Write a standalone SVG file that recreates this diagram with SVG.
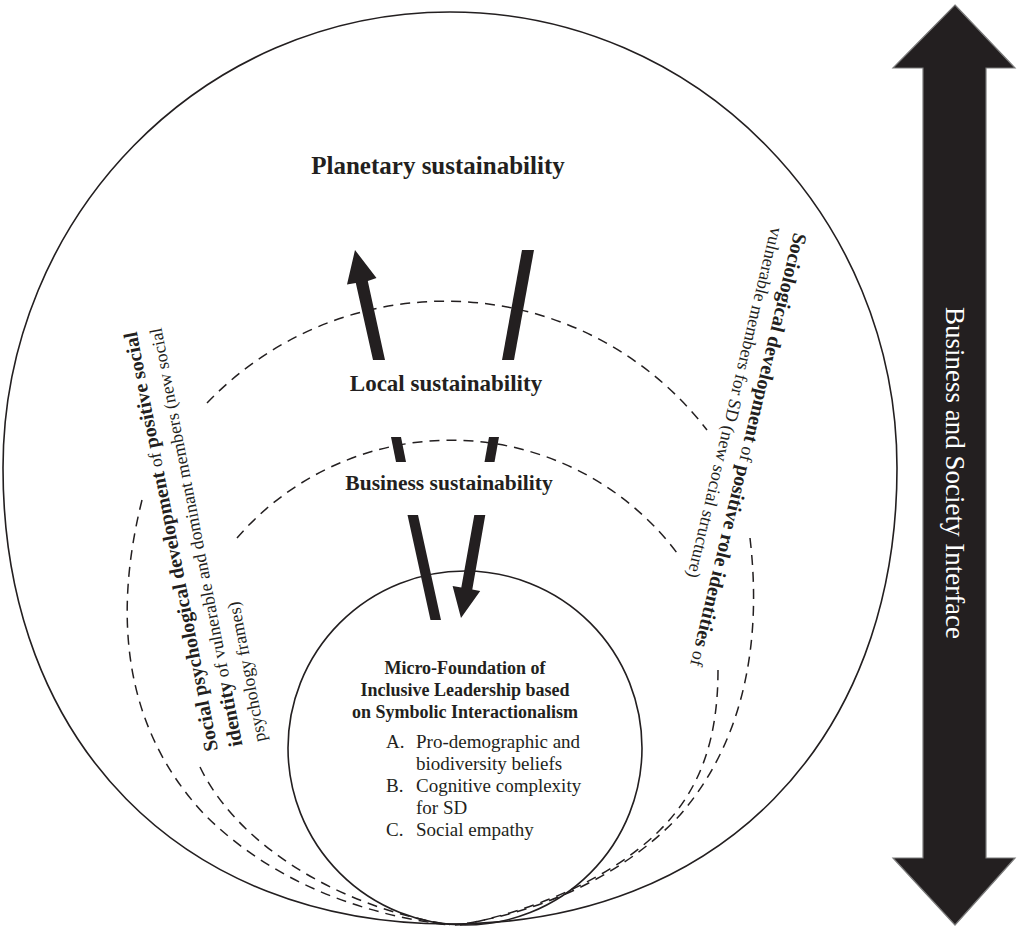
<svg xmlns="http://www.w3.org/2000/svg" width="1017" height="929" viewBox="0 0 1017 929">
<style>
.solid{fill:none;stroke:#231f20;stroke-width:1.6}
.dash{fill:none;stroke:#231f20;stroke-width:1.5;stroke-dasharray:10 7}
.bar{fill:#231f20;stroke:none}
.t{font-family:"Liberation Serif","Times New Roman",serif;fill:#231f20}
.b{font-weight:bold;font-size:20px}
.big{fill:#231f20;stroke:#7a7a7a;stroke-width:1.2}
</style>
<rect width="1017" height="929" fill="#fff"/>
<g id="planetary">
<path class="solid" d="M450,12 C697,12 897,216 897,468 C897,742 718,924 450,924 C182,924 3,742 3,468 C3,216 203,12 450,12 Z"/>
<text class="t" font-weight="bold" x="438" y="174" font-size="25" text-anchor="middle">Planetary sustainability</text>
</g>
<g id="local">
<path class="dash" d="M207,403 A330,330 0 0 1 707,430"/>
<text class="t" font-weight="bold" x="446" y="391" font-size="23" text-anchor="middle">Local sustainability</text>
</g>
<g id="business">
<path class="dash" d="M237,538 A283,283 0 0 1 680,557"/>
<text class="t" font-weight="bold" x="449" y="490" font-size="21.5" text-anchor="middle">Business sustainability</text>
</g>
<g id="micro">
<circle class="solid" cx="465" cy="748" r="177"/>
<text class="t" font-weight="bold" font-size="18" text-anchor="middle"><tspan x="465" y="674">Micro-Foundation of</tspan><tspan x="465" y="696">Inclusive Leadership based</tspan><tspan x="465" y="718">on Symbolic Interactionalism</tspan></text>
<text class="t" font-size="19"><tspan x="386" y="748">A.</tspan><tspan x="416" y="748">Pro-demographic and</tspan><tspan x="416" y="770">biodiversity beliefs</tspan><tspan x="386" y="792">B.</tspan><tspan x="416" y="792">Cognitive complexity</tspan><tspan x="416" y="814">for SD</tspan><tspan x="386" y="836">C.</tspan><tspan x="416" y="836">Social empathy</tspan></text>
</g>
<g id="social-psych">
<path class="dash" d="M142,500 C112,620 125,730 205,815 C270,880 360,915 450,925"/>
<path class="dash" d="M200,767 C235,840 330,905 450,925"/>
<text class="t" font-size="18" transform="translate(218,750) rotate(-101)"><tspan x="0" y="0"><tspan class="b">Social psychological development</tspan> of <tspan class="b">positive social</tspan></tspan><tspan x="0" y="25"><tspan class="b">identity</tspan> of vulnerable and dominant members (new social</tspan><tspan x="0" y="49">psychology frames)</tspan></text>
</g>
<g id="sociological">
<path class="dash" d="M750,538 C762,640 745,740 680,815 C620,880 530,915 455,925"/>
<path class="dash" d="M718,670 C718,740 700,790 660,830 C610,880 530,912 460,925"/>
<text class="t" font-size="18" transform="translate(794,232) rotate(103.5)"><tspan x="0" y="0"><tspan class="b">Sociological development</tspan> of <tspan class="b">positive role identities</tspan> of</tspan><tspan x="0" y="23.5">vulnerable members for SD (new social structure)</tspan></text>
</g>
<g id="connectors">
<polygon class="bar" points="373,360 385,360 367.8,281 376.5,278 355,250 347,284.5 355.8,283"/>
<polygon class="bar" points="502,360 514,360 534,250 522,250"/>
<polygon class="bar" points="391,437 401,437 406,462 396,462"/>
<polygon class="bar" points="489,437 499,437 494.5,462 484.5,462"/>
<polygon class="bar" points="407.5,515 418,515 441,620 430.5,620"/>
<polygon class="bar" points="474.3,515 485.3,515 472.3,589.5 480.2,591 461,618 452.6,586 461.3,587.5"/>
</g>
<g id="interface">
<polygon class="big" points="955,5 1015,68 986,68 986,858 1015,858 955,925 893,858 923,858 923,68 893,68"/>
<text class="t" font-size="27" style="fill:#fff" text-anchor="middle" transform="translate(946,473) rotate(90)">Business and Society Interface</text>
</g>
</svg>
